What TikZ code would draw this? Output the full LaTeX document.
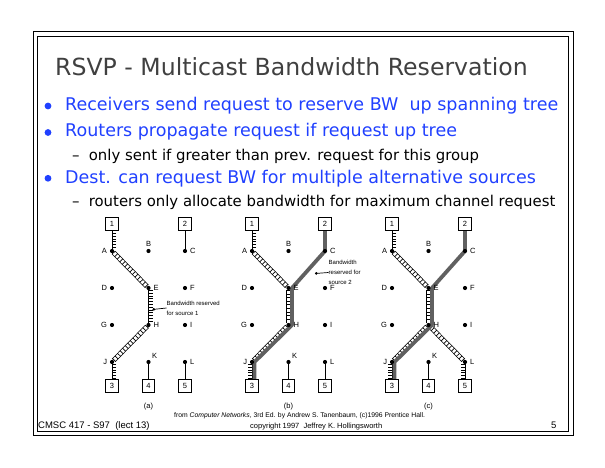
\documentclass[tikz,border=0pt]{standalone}
\usepackage{fontspec}
\setmainfont{DejaVu Sans}
\newfontfamily\arialfont{Liberation Sans}
\usetikzlibrary{decorations.pathreplacing,arrows.meta}
\definecolor{bulletblue}{RGB}{32,64,255}
\definecolor{titlegray}{RGB}{64,64,64}
\definecolor{resvgray}{RGB}{96,96,96}
\pgfdeclarelayer{bg}
\pgfsetlayers{bg,main}
\tikzset{
  dot/.style={circle, fill, inner sep=0pt, minimum size=4.2pt},
  lbl/.style={font=\arialfont\fontsize{7.5}{8}\selectfont, inner sep=0.5pt},
  rbox/.style={draw, line width=0.9pt, minimum width=12.5pt, minimum height=13pt, inner sep=0pt, font=\arialfont\fontsize{7.5}{8}\selectfont},
  plain/.style={draw, line width=0.8pt},
  tickR/.style={draw, line width=0.8pt, postaction={draw, line width=0.7pt, decorate, decoration={ticks, segment length=2.8pt, amplitude=2pt, raise=2pt}}},
  tickL/.style={draw, line width=0.8pt, postaction={draw, line width=0.7pt, decorate, decoration={ticks, segment length=2.8pt, amplitude=2pt, raise=-2pt}}},
  ladder/.style={line width=0.7pt,
     preaction={draw, double=white, double distance=3.4pt},
     postaction={draw, decorate, decoration={ticks, segment length=3.6pt, amplitude=2.2pt}}},
  srctwo/.style={draw=resvgray, line width=3.8pt, line join=round},
  leader/.style={draw, line width=0.7pt, {Circle[length=2.6pt]}-},
  note/.style={font=\arialfont\fontsize{6}{9.8}\selectfont, align=left, inner sep=0pt, anchor=west},
  maintext/.style={anchor=base west, inner sep=0pt, text=bulletblue, font=\fontsize{17.5}{20}\selectfont},
  subtext/.style={anchor=base west, inner sep=0pt, font=\fontsize{14.9}{17}\selectfont},
  bul/.style={circle, fill=bulletblue, inner sep=0pt, minimum size=6.8pt},
  panel/.style={font=\arialfont\fontsize{7.5}{8}\selectfont, inner sep=0pt},
  foot/.style={anchor=base west, inner sep=0pt, font=\arialfont\fontsize{9.5}{10}\selectfont},
  credit/.style={anchor=base west, inner sep=0pt, font=\arialfont\fontsize{6.8}{7}\selectfont},
  frameline/.style={draw, line width=1pt}
}
\begin{document}
\begin{tikzpicture}[x=1pt, y=-1pt, label distance=2pt]
\useasboundingbox (0,0) rectangle (605,468);
% frame
\draw[frameline] (33,32) rectangle (573,435.5);
\draw[frameline] (37.5,37) rectangle (568.5,431);
% title and bullets
\node[anchor=base west, inner sep=0pt, text=titlegray, font=\fontsize{23.6}{28}\selectfont] (title) at (55,75.7) {RSVP - Multicast Bandwidth Reservation};
\node[bul] (bu1) at (48,106) {};
\node[maintext] (l1) at (65,110.7) {Receivers send request to reserve BW\ \ up spanning tree};
\node[bul] (bu2) at (48,132.5) {};
\node[maintext] (l2) at (65,137) {Routers propagate request if request up tree};
\node[subtext] (d1) at (72,160.7) {–};
\node[subtext] (s1) at (88.6,160.7) {only sent if greater than prev. request for this group};
\node[bul] (bu3) at (48,178.3) {};
\node[maintext] (l3) at (65,183) {Dest. can request BW for multiple alternative sources};
\node[subtext] (d2) at (72,206.7) {–};
\node[subtext] (s2) at (88.6,206.7) {routers only allocate bandwidth for maximum channel request};
% panels
\foreach \p/\ox in {a/112,b/252,c/392}{
  \node[rbox] (\p n1) at (\ox,223.5) {1};
  \node[rbox] (\p n2) at ({\ox+73},223.5) {2};
  \node[dot,label={[lbl]left:A}] (\p A) at (\ox,251) {};
  \node[dot,label={[lbl]above:B}] (\p B) at ({\ox+36.5},251) {};
  \node[dot,label={[lbl]right:C}] (\p C) at ({\ox+73},251) {};
  \node[dot,label={[lbl]left:D}] (\p D) at (\ox,288) {};
  \node[dot,label={[lbl]right:E}] (\p E) at ({\ox+36.5},288) {};
  \node[dot,label={[lbl]right:F}] (\p F) at ({\ox+73},288) {};
  \node[dot,label={[lbl]left:G}] (\p G) at (\ox,325) {};
  \node[dot,label={[lbl]right:H}] (\p H) at ({\ox+36.5},325) {};
  \node[dot,label={[lbl]right:I}] (\p I) at ({\ox+73},325) {};
  \node[dot,label={[lbl]left:J}] (\p J) at (\ox,362) {};
  \node[dot,label={[lbl]above right:K}] (\p K) at ({\ox+36.5},362) {};
  \node[dot,label={[lbl]right:L}] (\p L) at ({\ox+73},362) {};
  \node[rbox] (\p n3) at (\ox,386) {3};
  \node[rbox] (\p n4) at ({\ox+36.5},386) {4};
  \node[rbox] (\p n5) at ({\ox+73},386) {5};
  \node[panel] (\p cap) at ({\ox+36.5},407) {(\p)};
}
\begin{pgfonlayer}{bg}
% panel (a)
\draw[tickR] (an1) -- (aA);
\path[ladder] (aA) -- (aE);
\draw[tickR] (aE) -- (aH);
\path[ladder] (aH) -- (aJ);
\draw[tickR] (aJ) -- (an3);
\draw[plain] (an2) -- (aC);
\draw[plain] (aK) -- (an4);
\draw[plain] (aL) -- (an5);
% panel (b)
\draw[tickR] (bn1) -- (bA);
\path[ladder] (bA) -- (bE);
\path[ladder] (bE) -- (bH);
\path[ladder] (bH) -- (bJ);
\draw[tickL] (bJ) -- (bn3);
\draw[plain] (bK) -- (bn4);
\draw[plain] (bL) -- (bn5);
\draw[srctwo] (bn2) -- (bC.center) -- ([xshift=3.5pt]bE.center) -- ([xshift=3.5pt]bH.center) -- ([xshift=2.5pt]bJ.center) -- ([xshift=2.5pt]bn3.north);
% panel (c)
\draw[tickR] (cn1) -- (cA);
\path[ladder] (cA) -- (cE);
\path[ladder] (cE) -- (cH);
\path[ladder] (cH) -- (cJ);
\path[ladder] (cH) -- (cL);
\draw[tickL] (cJ) -- (cn3);
\draw[tickL] (cL) -- (cn5);
\draw[plain] (cK) -- (cn4);
\draw[srctwo] (cn2) -- (cC.center) -- ([xshift=3.5pt]cE.center) -- ([xshift=3.5pt]cH.center) -- ([xshift=2.5pt]cJ.center) -- ([xshift=2.5pt]cn3.north);
\end{pgfonlayer}
% notes
\node[note] (alab) at (166.5,308) {Bandwidth reserved\\for source 1};
\coordinate (aptr) at (152.5,309.5);
\draw[leader] (aptr) -- (alab.west);
\node[note] (blab) at (328.5,272.5) {Bandwidth\\reserved for\\source 2};
\coordinate (bptr) at (315,273.5);
\draw[leader] (bptr) -- (blab.west);
% footer
\node[credit] (cred) at (174,417.5) {from \textit{Computer Networks}, 3rd Ed. by Andrew S. Tanenbaum, (c)1996 Prentice Hall.};
\node[foot] (course) at (38,428.5) {CMSC 417 - S97\ \ (lect 13)};
\node[credit, font=\arialfont\fontsize{7.5}{8}\selectfont] (copy) at (250,428.5) {copyright 1997\ \ Jeffrey K. Hollingsworth};
\node[foot] (page) at (551,428) {5};
\end{tikzpicture}
\end{document}
